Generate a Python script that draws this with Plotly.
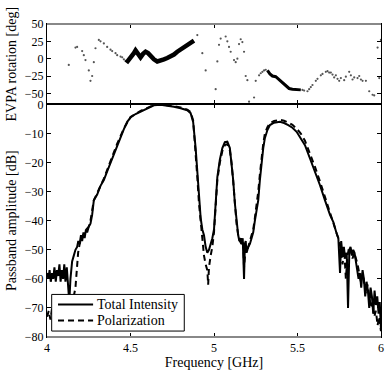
import plotly.graph_objects as go

# passband, total intensity (solid)
freq_ti = [4.000, 4.008, 4.015, 4.022, 4.030, 4.037, 4.044, 4.052, 4.059, 4.066,
           4.074, 4.081, 4.088, 4.096, 4.103, 4.110, 4.118, 4.125, 4.133, 4.140,
           4.150, 4.160, 4.170, 4.180, 4.187, 4.195, 4.203, 4.210, 4.218, 4.225,
           4.233, 4.240, 4.250, 4.260, 4.270, 4.280, 4.300, 4.320, 4.340, 4.360,
           4.380, 4.400, 4.420, 4.440, 4.460, 4.480, 4.500, 4.530, 4.560, 4.600,
           4.640, 4.680, 4.720, 4.760, 4.800, 4.840, 4.860, 4.875, 4.890, 4.900,
           4.910, 4.920, 4.930, 4.940, 4.950, 4.960, 4.970, 4.980, 4.990, 5.000,
           5.010, 5.020, 5.035, 5.050, 5.065, 5.080, 5.095, 5.105, 5.115, 5.125,
           5.135, 5.145, 5.152, 5.160, 5.165, 5.172, 5.180, 5.185, 5.190, 5.195,
           5.205, 5.215, 5.225, 5.235, 5.245, 5.255, 5.265, 5.275, 5.285, 5.295,
           5.305, 5.320, 5.335, 5.360, 5.395, 5.420, 5.445, 5.470, 5.495, 5.520,
           5.545, 5.575, 5.605, 5.635, 5.665, 5.695, 5.715, 5.725, 5.735, 5.745,
           5.755, 5.762, 5.770, 5.778, 5.786, 5.795, 5.803, 5.811, 5.818, 5.826,
           5.834, 5.842, 5.850, 5.858, 5.866, 5.874, 5.882, 5.890, 5.898, 5.906,
           5.914, 5.922, 5.930, 5.938, 5.946, 5.954, 5.962, 5.970, 5.978, 5.986,
           5.993, 6.000]
amp_ti = [-58, -60, -57, -61, -58, -60, -56, -61, -57, -59,
          -55, -61, -57, -60, -55, -61, -56, -62, -68, -60,
          -54, -52, -50, -49, -47, -48, -45, -47, -44, -46,
          -43, -44, -42, -41, -38, -33, -31, -28, -26, -23,
          -20, -17, -14, -11.5, -8.5, -6, -4.5, -3.3, -2.4, -1.3,
          -0.3, -0.1, -0.4, -0.8, -1.3, -2.0, -3.0, -6, -15, -23,
          -32, -39, -43, -45, -49, -51, -50, -48, -46, -43,
          -33, -25, -19, -15, -13, -12.8, -15, -19.5, -26, -34,
          -40, -45, -47, -46, -48, -46, -60, -48, -47, -51,
          -49, -48, -46, -44, -40, -37, -33, -26, -20, -15,
          -11.5, -8.8, -7.1, -6.3, -6.0, -6.4, -7.1, -8.0, -9.4, -11.5,
          -14, -18.6, -23, -27.8, -33, -38, -40.5, -43, -44.5, -46,
          -58, -47, -52, -49, -53, -51, -70, -50, -49, -52,
          -50, -51, -54, -56, -60, -58, -63, -57, -60, -66,
          -61, -64, -70, -63, -66, -72, -64, -69, -66, -72,
          -68, -77]

# passband, polarization (dashed)
freq_pol = [4.000, 4.010, 4.020, 4.030, 4.040, 4.050, 4.060, 4.075, 4.090, 4.105,
            4.120, 4.135, 4.150, 4.160, 4.170, 4.178, 4.186, 4.195, 4.205, 4.215,
            4.225, 4.235, 4.250, 4.260, 4.270, 4.280, 4.300, 4.340, 4.380, 4.420,
            4.460, 4.500, 4.560, 4.640, 4.700, 4.760, 4.800, 4.840, 4.860, 4.875,
            4.890, 4.900, 4.910, 4.920, 4.930, 4.940, 4.950, 4.960, 4.965, 4.970,
            4.980, 4.990, 5.000, 5.010, 5.020, 5.035, 5.050, 5.065, 5.080, 5.095,
            5.105, 5.115, 5.125, 5.135, 5.145, 5.155, 5.165, 5.175, 5.180, 5.190,
            5.200, 5.210, 5.220, 5.235, 5.245, 5.255, 5.265, 5.275, 5.285, 5.295,
            5.305, 5.320, 5.335, 5.360, 5.395, 5.420, 5.445, 5.470, 5.495, 5.520,
            5.545, 5.575, 5.605, 5.635, 5.665, 5.695, 5.715, 5.735, 5.750, 5.760,
            5.770, 5.780, 5.790, 5.800, 5.810, 5.820, 5.830, 5.840, 5.850, 5.860,
            5.870, 5.880, 5.890, 5.900, 5.910, 5.920, 5.930, 5.940, 5.950, 5.960,
            5.970, 5.980, 5.990, 6.000]
amp_pol = [-73, -71, -74, -70, -72, -75, -71, -73, -70, -72,
           -69, -70, -68, -66, -63, -57, -51, -48, -46, -45,
           -45, -43, -42, -40, -37, -33, -30.5, -25.5, -19.5, -13.5,
           -8.3, -4.3, -2.2, -0.2, -0.1, -0.6, -1.0, -1.8, -2.6, -5.5,
           -16, -25, -34, -41, -46, -52, -55, -57, -62, -56,
           -52, -49, -44, -34, -26, -20, -16, -14, -13.6, -15.8,
           -20, -26.5, -34.5, -41, -45, -47, -48, -47, -56, -49,
           -50, -48, -46, -43, -39, -35, -30, -24, -18, -13.5,
           -10, -7.8, -6.4, -5.7, -5.3, -5.6, -6.2, -7.0, -8.3, -10.0,
           -12.5, -16.8, -21.5, -26.5, -32, -37.5, -40.5, -44, -47, -50,
           -55, -50, -60, -52, -49, -50, -53, -51, -53, -55,
           -58, -61, -58, -62, -65, -62, -67, -70, -68, -73,
           -71, -76, -73, -78]

# EVPA, scattered points
freq_evpa = [4.13, 4.17, 4.18, 4.21, 4.22, 4.23, 4.25, 4.26, 4.27, 4.28,
             4.29, 4.31, 4.32, 4.34, 4.36, 4.38, 4.39, 4.41, 4.42, 4.44,
             4.45, 4.46, 4.47,
             4.90, 4.93, 4.95, 5.01, 5.02, 5.03, 5.04, 5.07, 5.08, 5.09,
             5.10, 5.12, 5.13, 5.14, 5.15, 5.16, 5.17, 5.18, 5.19, 5.20,
             5.21, 5.24, 5.25, 5.27, 5.28, 5.29, 5.30, 5.31,
             5.53, 5.54, 5.56, 5.57, 5.58, 5.59, 5.61, 5.62, 5.64, 5.65,
             5.67, 5.68, 5.69, 5.70, 5.71, 5.72, 5.73, 5.74, 5.75, 5.76,
             5.78, 5.79, 5.81, 5.82, 5.83, 5.84, 5.86, 5.87, 5.88, 5.89,
             5.91, 5.93, 5.95, 5.96, 5.99, 5.98, 6.00]
rot_evpa = [-9, 16, 17, 11, 5, -2, -17, -32, -25, -5,
            15, 27, 25, 22, 17, 13, 11, 8, 5, 3,
            2, -1, -3,
            34, 8, -17, -44, -4, 20, 29, 32, 25, 17,
            10, -2, -5, 0, 21, 28, 24, 10, -25, -31,
            -62, -56, -32, -24, -21, -19, -17, -16,
            -45, -46, -47, -44, -41, -38, -32, -29, -24, -22,
            -19, -18, -20, -20, -23, -27, -24, -29, -32, -28,
            -31, -26, -19, -24, -30, -27, -28, -25, -30, -32,
            -32, -47, -52, -53, -28, 16, 27]

# EVPA, dense stretches (drawn as a thick band)
freq_band1 = [4.475, 4.49, 4.50, 4.52, 4.53, 4.545, 4.56, 4.575, 4.59, 4.605,
              4.62, 4.64, 4.66, 4.68, 4.70, 4.72, 4.74, 4.76, 4.78, 4.80,
              4.82, 4.84, 4.86, 4.88]
rot_band1 = [-6, -2, 3, 8, 12, 6, 2, 7, 10, 8,
             3, -1, -4, -3, -1, 1, 3, 6, 10, 13,
             16, 19, 22, 26]
freq_band2 = [5.32, 5.335, 5.35, 5.37, 5.385, 5.40, 5.42, 5.43, 5.45, 5.47,
              5.50, 5.52]
rot_band2 = [-17, -22, -25, -26, -29, -32, -36, -39, -43, -44,
             -44, -45]

legend_names = ["Total Intensity", "Polarization"]

serif = "Liberation Serif"
font = dict(family=serif, size=12, color="black")
title_font = dict(family=serif, size=14, color="black")
solid = dict(color="black", width=2)
dashed = dict(color="black", width=2, dash="6px,4px")

fig = go.Figure()

fig.add_trace(go.Scatter(x=freq_ti, y=amp_ti, mode="lines", name=legend_names[0],
                         line=solid, xaxis="x", yaxis="y"))
fig.add_trace(go.Scatter(x=freq_pol, y=amp_pol, mode="lines", name=legend_names[1],
                         line=dashed, xaxis="x", yaxis="y"))

fig.add_trace(go.Scatter(x=freq_evpa, y=rot_evpa, mode="markers",
                         marker=dict(color="#555", size=2.2), xaxis="x2", yaxis="y2"))
fig.add_trace(go.Scatter(x=freq_band1, y=rot_band1, mode="lines",
                         line=dict(color="black", width=4.5), xaxis="x2", yaxis="y2"))
fig.add_trace(go.Scatter(x=freq_band2, y=rot_band2, mode="lines",
                         line=dict(color="black", width=3), xaxis="x2", yaxis="y2"))

axis_common = dict(ticks="inside", ticklen=4, tickcolor="black", showline=True,
                   linecolor="black", linewidth=1, mirror="ticks", showgrid=False,
                   zeroline=False, tickfont=font, automargin=False,
                   ticklabeloverflow="allow")

split = 0.743

# legend drawn by hand (compact box like the original)
leg_box = dict(type="rect", xref="paper", yref="paper", x0=0.014, x1=0.411, y0=0.019, y1=0.136,
               fillcolor="white", line=dict(color="black", width=1), layer="above")
leg_rows = [0.104, 0.053]
shapes = [
    dict(type="line", xref="paper", yref="paper", x0=0, x1=1, y0=1, y1=1,
         line=dict(color="#888", width=2)),
    dict(type="line", xref="paper", yref="paper", x0=0, x1=1, y0=0, y1=0,
         line=dict(color="#888", width=2)),
    dict(type="line", xref="paper", yref="paper", x0=0, x1=1, y0=split, y1=split,
         line=dict(color="black", width=1)),
    leg_box,
]
annotations = []
for row, name, style in zip(leg_rows, legend_names, [solid, dashed]):
    shapes.append(dict(type="line", xref="paper", yref="paper", x0=0.033, x1=0.138,
                       y0=row, y1=row, line=style, layer="above"))
    annotations.append(dict(text=name, xref="paper", yref="paper", x=0.145, y=row,
                            xanchor="left", yanchor="middle", showarrow=False,
                            font=dict(family=serif, size=14, color="black")))

fig.update_layout(
    template="none",
    width=390, height=372,
    margin=dict(l=47, r=9, t=24, b=35),
    paper_bgcolor="white", plot_bgcolor="white",
    font=font,
    showlegend=False,
    xaxis=dict(axis_common, anchor="y", domain=[0, 1], range=[3.9995, 6.0005],
               tickvals=[4, 4.5, 5, 5.5, 6], ticktext=["4", "4.5", "5", "5.5", "6"],
               title=dict(text="Frequency [GHz]", font=title_font, standoff=2)),
    xaxis2=dict(axis_common, anchor="y2", matches="x",
                tickvals=[4, 4.5, 5, 5.5, 6], showticklabels=False),
    yaxis=dict(axis_common, anchor="x", domain=[0, split], range=[-80, 0], dtick=10,
               title=dict(text="Passband amplitude [dB]", font=title_font, standoff=4)),
    yaxis2=dict(axis_common, anchor="x2", domain=[split, 1], range=[-66, 50],
                tickvals=[-50, -25, 0, 25, 50],
                title=dict(text="EVPA rotation [deg]", font=title_font, standoff=4)),
    shapes=shapes,
    annotations=annotations,
)

# drop the page's default body margin so the figure sits at the window's corner
fig.write_html("out.html", config={"displayModeBar": False},
               post_script="document.body.style.margin='0';")
